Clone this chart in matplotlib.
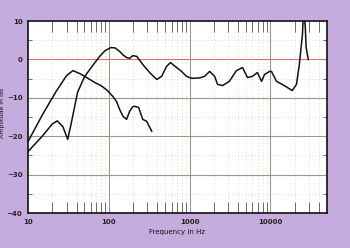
import numpy as np
import matplotlib
matplotlib.use("Agg")
import matplotlib.pyplot as plt
from matplotlib.ticker import FixedLocator, NullFormatter

# Curve A: low-frequency nearfield response
freq_a = [10, 15, 22, 30, 36, 45, 53, 67, 80, 95, 112, 125, 136, 150, 166,
          181, 198, 209, 234, 263, 294, 340]
db_a = [-21.4, -14.5, -8.5, -4.2, -2.9, -3.8, -4.7, -6.0, -6.8, -8.0, -9.6,
        -11.0, -13.0, -14.8, -15.6, -13.5, -12.3, -12.2, -12.5, -15.6, -16.1, -18.7]

# Curve B: main response
freq_b = [10, 15, 20, 23, 27, 31, 34, 38, 41, 50, 62, 77, 90, 106, 120, 136,
          150, 166, 181, 198, 222, 263, 320, 393, 450, 519, 580, 690, 795,
          915, 1060, 1330, 1530, 1770, 2040, 2220, 2560, 3100, 3800, 4520,
          5200, 6000, 6900, 7770, 8450, 9800, 10300, 11900, 14000, 16200,
          18600, 21000, 22800, 24900, 25600, 26900, 27700, 29400]
db_b = [-24.0, -20.0, -16.8, -16.0, -17.5, -20.8, -17.0, -12.0, -8.6, -4.5,
        -1.8, 0.8, 2.3, 3.1, 3.0, 2.1, 1.2, 0.5, 0.3, 1.0, 0.8, -1.3, -3.4,
        -5.2, -4.4, -1.8, -0.8, -2.1, -3.1, -4.4, -4.9, -4.8, -4.4, -3.1,
        -4.4, -6.5, -6.8, -5.7, -2.9, -2.1, -4.7, -4.4, -3.4, -5.7, -3.9,
        -3.1, -3.1, -5.7, -6.5, -7.3, -8.1, -6.5, -1.3, 6.5, 12.0, 9.1, 3.1, 0.0]

x_ticks = [10, 100, 1000, 10000]
x_labels = ["10", "100", "1000", "10000"]
y_ticks = [-40, -30, -20, -10, 0, 10]

bg = "#c6abdf"
fig = plt.figure(figsize=(3.5, 2.48), dpi=100, facecolor=bg)
ax = fig.add_axes([0.08, 0.141, 0.854, 0.774])
ax.set_facecolor("white")
ax.set_xscale("log")
ax.set_xlim(10, 50000)
ax.set_ylim(-40, 10)

minor_x = [m * 10 ** d for d in range(1, 5) for m in range(2, 10) if m * 10 ** d < 50000]

# grid
for y in [-35, -25, -15, -5, 5]:
    ax.axhline(y, color="#c8d2c0", lw=0.6, ls=(0, (1, 3)), zorder=1)
for x in minor_x:
    ax.axvline(x, color="#c8d2c0", lw=0.6, ls=(0, (1, 3)), zorder=1)
for y in [-30, -20, -10]:
    ax.axhline(y, color="#8f9f86", lw=0.8, zorder=1.5)
ax.axhline(0, color="#e06a6a", lw=0.8, zorder=1.5)
for x in [100, 1000, 10000]:
    ax.axvline(x, color="#8f9f86", lw=0.8, zorder=1.5)

ax.plot(freq_a, db_a, color="#111111", lw=1.1, zorder=3)
ax.plot(freq_b, db_b, color="#111111", lw=1.1, zorder=3)

ax.xaxis.set_major_locator(FixedLocator(x_ticks))
ax.set_xticklabels(x_labels)
ax.xaxis.set_minor_locator(FixedLocator(minor_x))
ax.xaxis.set_minor_formatter(NullFormatter())
ax.set_yticks(y_ticks)
ax.yaxis.set_minor_locator(FixedLocator([-35, -25, -15, -5, 5]))
ax.tick_params(axis="x", which="major", length=0, labelsize=5, pad=4)
ax.tick_params(axis="x", which="minor", direction="in", length=8, width=0.6,
               color="#555555", top=True, bottom=True)
ax.tick_params(axis="y", which="major", length=0, labelsize=5, pad=4)
ax.tick_params(axis="y", which="minor", direction="in", length=3, width=0.6,
               color="#555555", left=True, right=True)
for lab in ax.get_xticklabels() + ax.get_yticklabels():
    lab.set_fontweight("bold")
    lab.set_color("#222222")

for s in ax.spines.values():
    s.set_linewidth(1.2)
    s.set_color("#111111")

ax.set_xlabel("Frequency in Hz", fontsize=5, labelpad=3, color="#111111")
ax.set_ylabel("Amplitude in dB", fontsize=4.5, color="#111111")
ax.yaxis.set_label_coords(-0.077, 0.52)

fig.savefig("out.png", dpi=100, facecolor=bg)
